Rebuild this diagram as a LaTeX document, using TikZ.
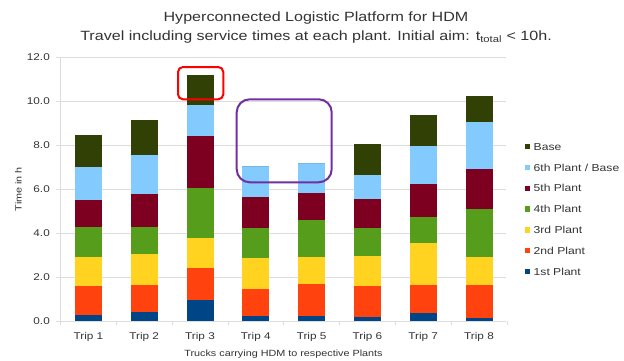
\documentclass[tikz,border=0pt]{standalone}
\usepackage{fontspec}
\setmainfont{Liberation Sans}[FakeStretch=1.2]
\definecolor{cA}{HTML}{004586}
\definecolor{cB}{HTML}{FF420E}
\definecolor{cC}{HTML}{FFD320}
\definecolor{cD}{HTML}{579D1C}
\definecolor{cE}{HTML}{7E0021}
\definecolor{cF}{HTML}{83CAFF}
\definecolor{cG}{HTML}{314004}
\definecolor{gridc}{HTML}{DDDDDD}
\definecolor{txt}{HTML}{333333}
\definecolor{hlred}{HTML}{FF0000}
\definecolor{hlpurple}{HTML}{7030A0}
\newcommand\tripbar[8]{%
  \pgfmathsetmacro\cx{60.5+55.8*(#1-0.5)}%
  \fill[cA] (\cx-13.5,0) rectangle (\cx+13.5,#2);
  \fill[cB] (\cx-13.5,#2) rectangle (\cx+13.5,#3);
  \fill[cC] (\cx-13.5,#3) rectangle (\cx+13.5,#4);
  \fill[cD] (\cx-13.5,#4) rectangle (\cx+13.5,#5);
  \fill[cE] (\cx-13.5,#5) rectangle (\cx+13.5,#6);
  \fill[cF] (\cx-13.5,#6) rectangle (\cx+13.5,#7);
  \fill[cG] (\cx-13.5,#7) rectangle (\cx+13.5,#8);
}
\begin{document}
\begin{tikzpicture}[x=1pt,y=1pt,
  titlefont/.style={font=\fontsize{13.4}{15}\selectfont, text=txt, inner sep=0pt},
  ticklab/.style={font=\fontsize{9.8}{11}\selectfont, text=txt, inner sep=0pt},
  axtitle/.style={font=\fontsize{9}{10}\selectfont, text=txt, inner sep=0pt},
  legtext/.style={font=\fontsize{10.1}{12}\selectfont, text=txt, inner sep=0pt, anchor=west},
  gridline/.style={draw=gridc, line width=0.8pt},
  hlbox/.style={line width=2pt}]
\useasboundingbox[fill=white] (0,0) rectangle (624,360);
% titles
\node[titlefont, anchor=base] (t1) at (316,339) {Hyperconnected Logistic Platform for HDM};
\node[titlefont, anchor=base] (t2) at (316,320) {Travel including service times at each plant. Initial aim: t\textsubscript{total} < 10h.};
\begin{scope}[shift={(0pt,38.7pt)}, y=22pt]
  % grid
  \foreach \v/\lab in {0/0.0,2/2.0,4/4.0,6/6.0,8/8.0,10/10.0,12/12.0} {
    \draw[gridline] (56,\v) -- (506,\v);
    \node[ticklab, anchor=east] (y\v) at (50,\v) {\lab};
  }
  \draw[gridline] (60.5,0) -- (60.5,12);
  \foreach \k in {0,...,8} {
    \draw[gridline] (60.5+55.8*\k,0) -- (60.5+55.8*\k,-0.17);
  }
  % bars
  \tripbar{1}{0.27}{1.59}{2.94}{4.29}{5.50}{7.03}{8.48}
  \tripbar{2}{0.41}{1.64}{3.05}{4.27}{5.80}{7.56}{9.14}
  \tripbar{3}{0.98}{2.44}{3.80}{6.05}{8.44}{9.82}{11.21}
  \tripbar{4}{0.24}{1.47}{2.86}{4.25}{5.65}{7.06}{7.06}
  \tripbar{5}{0.25}{1.71}{2.94}{4.60}{5.82}{7.18}{7.18}
  \tripbar{6}{0.20}{1.60}{2.98}{4.24}{5.55}{6.66}{8.07}
  \tripbar{7}{0.38}{1.66}{3.57}{4.74}{6.25}{7.97}{9.36}
  \tripbar{8}{0.17}{1.65}{2.94}{5.12}{6.91}{9.06}{10.23}
\end{scope}
% x tick labels
\foreach \k in {1,...,8} {
  \node[ticklab, anchor=base] (x\k) at (60.5+55.8*\k-27.9,21) {Trip \k};
}
\node[axtitle, anchor=base] (xt) at (283.5,4) {Trucks carrying HDM to respective Plants};
\node[axtitle, rotate=90] (yt) at (18.3,171) {Time in h};
% legend
\foreach \c/\name [count=\n from 0] in {cG/{Base},cF/{6th Plant / Base},cE/{5th Plant},cD/{4th Plant},cC/{3rd Plant},cB/{2nd Plant},cA/{1st Plant}} {
  \fill[\c] (525,213.3-20.8*\n-2.7) rectangle +(5.4,5.4);
  \node[legtext] (l\n) at (533.5,213.3-20.8*\n) {\name};
}
% highlight boxes
\draw[hlbox, draw=hlred, rounded corners=5pt] (178,260.7) rectangle (223.3,293);
\draw[hlbox, draw=hlpurple, rounded corners=13pt] (236.7,177.7) rectangle (331.7,260.7);
\end{tikzpicture}
\end{document}
